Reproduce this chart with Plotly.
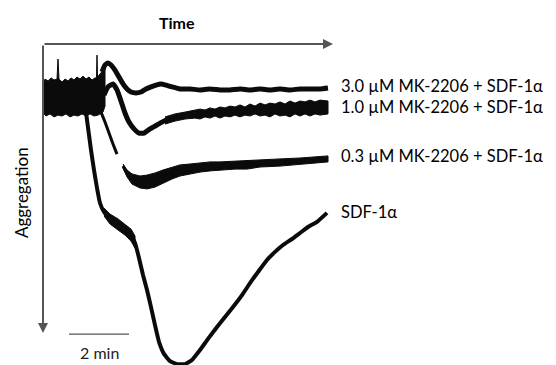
import plotly.graph_objects as go

# ---------------- data (time in s, aggregation in %) ----------------
# shared noisy baseline before agonist addition
base_t_up = [0, 4, 10, 16, 22, 28, 30, 32, 38, 44, 50, 56, 62, 68, 74, 80, 86, 92, 98, 104, 107, 108, 109, 114, 120, 124]
base_up = [-3.7, -5.3, -4.7, -5.7, -5.0, -5.3, -12.0, -5.3, -4.3, -5.3, -4.7, -5.7, -5.0, -6.0, -5.3, -6.3, -5.3, -6.0, -5.0, -5.7, -5.7, -13.3, -6.0, -7.0, -8.3, -9.0]
base_t_lo = [0, 6, 14, 22, 30, 38, 46, 54, 62, 70, 78, 86, 94, 102, 110, 120, 124]
base_lo = [6.0, 7.0, 6.3, 7.3, 6.7, 7.0, 6.3, 7.3, 6.7, 7.0, 6.3, 7.0, 6.3, 7.0, 6.7, 5.7, 3.7]

# 3.0 uM MK-2206 + SDF-1a
t30 = [118, 124, 130, 136, 144, 152, 160, 168, 176, 186, 196, 206, 216, 226, 236, 246, 258, 274, 294, 314, 334, 354, 374, 394, 414, 434, 454, 474, 494, 514, 534, 554, 570]
a30 = [-7.7, -10.0, -10.7, -10.0, -8.3, -6.0, -3.7, -2.0, -1.0, -0.7, -1.0, -2.0, -2.7, -3.3, -3.7, -3.3, -2.7, -2.0, -2.0, -1.7, -2.0, -1.7, -1.7, -2.0, -1.7, -2.0, -1.7, -2.0, -1.7, -2.0, -2.0, -2.0, -2.3]

# 1.0 uM MK-2206 + SDF-1a
t10 = [122, 130, 140, 148, 156, 164, 172, 182, 192, 202, 214, 228, 244, 264, 284, 304, 324, 344, 364, 384, 404, 424, 444, 464, 484, 504, 524, 544, 570]
a10 = [0.0, -2.7, -3.7, -1.7, 2.0, 6.0, 9.0, 11.3, 12.7, 12.7, 11.3, 10.0, 8.5, 7.5, 6.8, 6.3, 6.2, 5.8, 5.7, 5.3, 5.3, 5.0, 5.0, 4.7, 4.8, 4.5, 4.3, 4.3, 4.2]
t10_band = [244, 264, 284, 304, 314, 324, 334, 344, 354, 364, 374, 384, 394, 404, 414, 424, 434, 444, 454, 464, 474, 484, 494, 504, 514, 524, 534, 544, 554, 570]
a10_up = [7.3, 6.3, 5.7, 5.0, 4.7, 5.0, 4.3, 4.7, 4.0, 4.3, 3.7, 4.0, 3.3, 4.0, 3.0, 3.7, 2.7, 3.3, 2.7, 3.0, 2.3, 3.0, 2.0, 2.7, 2.0, 2.3, 1.7, 2.3, 1.7, 2.0]
a10_lo = [9.7, 8.7, 8.0, 7.7, 8.0, 7.3, 7.7, 7.0, 7.7, 7.0, 7.3, 6.7, 7.3, 6.7, 7.0, 6.3, 7.0, 6.7, 7.3, 6.3, 7.0, 6.7, 7.3, 6.3, 7.0, 6.3, 7.0, 6.3, 6.7, 6.3]

# 0.3 uM MK-2206 + SDF-1a
t03_drop = [116, 124, 132, 140, 148]
a03_drop = [5.7, 9.0, 12.7, 16.3, 19.7]
t03 = [160, 168, 178, 194, 208, 224, 240, 258, 274, 294, 314, 334, 354, 384, 408, 434, 474, 514, 544, 570]
a03_up = [23.0, 25.0, 26.3, 27.0, 26.7, 26.0, 25.0, 24.0, 23.3, 23.0, 22.7, 22.3, 22.3, 22.0, 22.0, 21.7, 21.3, 21.0, 20.7, 20.3]
a03_lo = [24.3, 27.3, 29.7, 31.0, 31.3, 30.7, 29.3, 28.0, 27.0, 26.3, 25.7, 25.3, 25.0, 24.7, 24.7, 24.0, 23.7, 23.0, 22.7, 22.3]

# SDF-1a alone
t_sdf = [86, 88, 92, 96, 102, 108, 114, 122, 134, 150, 164, 176, 184, 192, 200, 208, 216, 224, 232, 242, 254, 268, 284, 298, 314, 330, 348, 364, 380, 398, 414, 430, 448, 464, 480, 498, 514, 530, 548, 568]
a_sdf = [5.7, 8.3, 13.3, 18.3, 25.0, 31.0, 36.0, 39.0, 41.3, 43.0, 44.7, 46.7, 49.3, 54.3, 60.0, 65.0, 70.7, 76.7, 82.3, 86.3, 88.7, 89.7, 89.7, 88.3, 85.0, 81.3, 77.3, 74.0, 70.7, 66.7, 62.7, 59.0, 55.0, 52.3, 50.0, 48.0, 46.0, 44.0, 42.3, 39.3]
t_sdf_band = [122, 134, 150, 164, 176, 184]
a_sdf_up = [37.7, 39.7, 41.3, 43.0, 44.7, 47.0]
a_sdf_lo = [40.3, 43.0, 45.0, 46.7, 48.7, 51.0]

labels = ["3.0 \u00b5M MK-2206 + SDF-1\u03b1", "1.0 \u00b5M MK-2206 + SDF-1\u03b1",
          "0.3 \u00b5M MK-2206 + SDF-1\u03b1", "SDF-1\u03b1"]
label_a = [-2.9, 3.9, 20.3, 39.0]
label_t = 594

scale_t = [52, 172]      # 2 min scale bar
scale_a = 79.7

INK = "#0b0b0b"
AX = "#555555"

fig = go.Figure()


def band(tu, up, tl, lo):
    fig.add_trace(go.Scatter(
        x=list(tu) + list(reversed(tl)), y=list(up) + list(reversed(lo)),
        mode="lines", fill="toself", fillcolor=INK,
        line=dict(color=INK, width=1), hoverinfo="skip", showlegend=False))


def line(t, a, w):
    fig.add_trace(go.Scatter(x=t, y=a, mode="lines",
                             line=dict(color=INK, width=w, shape="spline", smoothing=0.4),
                             hoverinfo="skip", showlegend=False))


band(base_t_up, base_up, base_t_lo, base_lo)
line(t30, a30, 5)
line(t10, a10, 5)
band(t10_band, a10_up, t10_band, a10_lo)
line(t03_drop, a03_drop, 3)
band(t03, a03_up, t03, a03_lo)
line(t03, [(u + l) / 2 for u, l in zip(a03_up, a03_lo)], 3)
line(t_sdf, a_sdf, 4)
band(t_sdf_band, a_sdf_up, t_sdf_band, a_sdf_lo)

# axes as arrows
fig.add_annotation(x=580, y=-17, ax=0, ay=-17, xref="x", yref="y", axref="x", ayref="y",
                   text="", showarrow=True, arrowhead=2, arrowsize=1, arrowwidth=2, arrowcolor=AX)
fig.add_annotation(x=0, y=79.3, ax=0, ay=-17, xref="x", yref="y", axref="x", ayref="y",
                   text="", showarrow=True, arrowhead=2, arrowsize=1, arrowwidth=2, arrowcolor=AX)

# scale bar
fig.add_shape(type="line", x0=scale_t[0], x1=scale_t[1], y0=scale_a, y1=scale_a,
              line=dict(color=AX, width=1.3))

FONT = "Lato"
fig.add_annotation(x=(scale_t[0] + scale_t[1]) / 2, y=85.8, text="2 min", showarrow=False,
                   font=dict(family=FONT, size=16, color="#222"), borderpad=0)
fig.add_annotation(x=268, y=-24.3, text="<b>Time</b>", showarrow=False,
                   font=dict(family=FONT, size=16, color="#000"))
fig.add_annotation(x=-44, y=32.7, text="Aggregation", textangle=-90, showarrow=False,
                   font=dict(family=FONT, size=17, color="#000"))
for lab, ya in zip(labels, label_a):
    fig.add_annotation(x=label_t, y=ya, text=lab, showarrow=False, xanchor="left",
                       font=dict(family=FONT, size=16.5, color="#000"), borderpad=0)

# page body has an 8 px margin, so the figure is 8 px smaller and its ranges start 8 px later
fig.update_layout(
    width=548, height=357, margin=dict(l=0, r=0, t=0, b=0),
    paper_bgcolor="white", plot_bgcolor="white", showlegend=False,
    xaxis=dict(range=[-70, 1026], visible=False, fixedrange=True),
    yaxis=dict(range=[90, -29], visible=False, fixedrange=True),
)
fig.write_html("out.html")
